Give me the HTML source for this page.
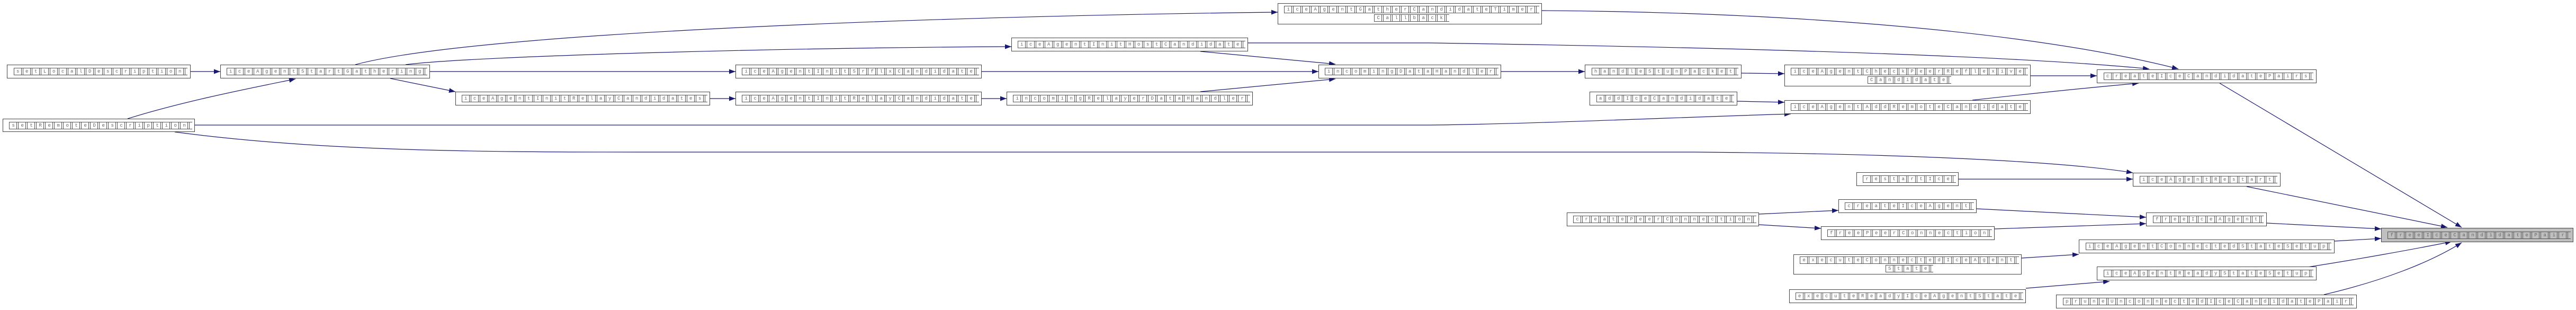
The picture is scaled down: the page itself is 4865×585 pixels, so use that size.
<!DOCTYPE html>
<html><head><meta charset="utf-8">
<style>
html,body{margin:0;padding:0;background:#fff;}
body{width:4865px;height:585px;position:relative;overflow:hidden;font-family:"Liberation Mono",monospace;}
.n{position:absolute;box-sizing:border-box;border:1px solid #444;background:#fff;display:flex;flex-direction:column;align-items:center;justify-content:center;gap:2px;}
.n.g{background:#bfbfbf;}
.t{display:inline-block;height:14px;line-height:14px;font-size:9px;color:#666;letter-spacing:11.6px;padding-left:5px;margin-right:-7px;white-space:nowrap;
background-image:
repeating-linear-gradient(90deg,#555 0 1px,transparent 1px 14px,#555 14px 15px,transparent 15px 17px),
linear-gradient(180deg,#555 0 1px,transparent 1px 13px,#555 13px 14px);
background-repeat:repeat-x,no-repeat;background-size:auto,100% 100%;}
svg{position:absolute;left:0;top:0;}
</style></head><body>
<svg width="4865" height="585" viewBox="0 0 4865 585">
<defs><marker id="a" markerWidth="12" markerHeight="9" refX="12" refY="4.5" orient="auto" markerUnits="userSpaceOnUse"><path d="M0,0 L12,4.5 L0,9 Z" fill="#191970"/></marker></defs>
<g fill="none" stroke="#191970" stroke-width="1.2" marker-end="url(#a)">
<path d="M360,135 L416,135"/>
<path d="M241,224 C350,190 480,165 558,149"/>
<path d="M671,122 C900,60 1800,30 2413,23"/>
<path d="M766,122 C900,105 1500,90 1910,88"/>
<path d="M812,135 L1389,135"/>
<path d="M737,148 L860,173"/>
<path d="M1341,186 L1389,186"/>
<path d="M1854,186 L1901,186"/>
<path d="M1854,135 L2490,135"/>
<path d="M2267,97 L2522,121"/>
<path d="M2267,173 L2522,149"/>
<path d="M2835,135 L2993,135"/>
<path d="M3289,138 L3370,139"/>
<path d="M3280,191 L3370,193"/>
<path d="M368,236 L2700,236 C2900,234 3200,220 3382,215"/>
<path d="M330,249 C600,285 900,287 1200,287 L3200,287 C3600,290 3900,305 4028,326"/>
<path d="M2912,20 C3300,22 3800,50 4114,130"/>
<path d="M2357,81 L2700,81 C3300,90 3800,105 4059,130"/>
<path d="M3835,143 L3960,143"/>
<path d="M3725,189 C3850,175 3950,165 4039,157"/>
<path d="M4192,157 L4649,429"/>
<path d="M4243,352 L4622,429"/>
<path d="M3699,338 L4028,338"/>
<path d="M4281,421 L4497,432"/>
<path d="M4409,455 L4497,450"/>
<path d="M4352,505 C4450,490 4560,470 4630,456"/>
<path d="M4389,556 C4500,530 4590,495 4649,458"/>
<path d="M3733,394 L4053,410"/>
<path d="M3767,432 L4053,422"/>
<path d="M3322,404 L3472,397"/>
<path d="M3322,424 L3439,431"/>
<path d="M3818,487 L3926,480"/>
<path d="M3826,544 L3984,531"/>
</g></svg>

<div class="n" style="left:13px;top:122px;width:347px;height:26px"><span class="t">setLocalDescription</span></div>
<div class="n" style="left:5px;top:224px;width:363px;height:25px"><span class="t">setRemoteDescription</span></div>
<div class="n" style="left:416px;top:122px;width:396px;height:26px"><span class="t">iceAgentStartGathering</span></div>
<div class="n" style="left:860px;top:173px;width:481px;height:26px"><span class="t">iceAgentInitRelayCandidates</span></div>
<div class="n" style="left:1389px;top:122px;width:465px;height:26px"><span class="t">iceAgentInitSrflxCandidate</span></div>
<div class="n" style="left:1389px;top:173px;width:465px;height:26px"><span class="t">iceAgentInitRelayCandidate</span></div>
<div class="n" style="left:1910px;top:71px;width:447px;height:26px"><span class="t">iceAgentInitHostCandidate</span></div>
<div class="n" style="left:1901px;top:173px;width:465px;height:26px"><span class="t">incomingRelayerDataHandler</span></div>
<div class="n" style="left:2413px;top:6px;width:499px;height:40px"><span class="t">iceAgentGatherCandidateTimer</span><span class="t">Callback</span></div>
<div class="n" style="left:2490px;top:122px;width:345px;height:26px"><span class="t">incomingDataHandler</span></div>
<div class="n" style="left:2993px;top:122px;width:296px;height:26px"><span class="t">handleStunPacket</span></div>
<div class="n" style="left:3002px;top:173px;width:279px;height:26px"><span class="t">addIceCandidate</span></div>
<div class="n" style="left:3370px;top:122px;width:465px;height:41px"><span class="t">iceAgentCheckPeerReflexive</span><span class="t">Candidate</span></div>
<div class="n" style="left:3370px;top:189px;width:465px;height:26px"><span class="t">iceAgentAddRemoteCandidate</span></div>
<div class="n" style="left:3960px;top:131px;width:415px;height:26px"><span class="t">createIceCandidatePairs</span></div>
<div class="n" style="left:3506px;top:325px;width:193px;height:26px"><span class="t">restartIce</span></div>
<div class="n" style="left:4028px;top:326px;width:279px;height:26px"><span class="t">iceAgentRestart</span></div>
<div class="n" style="left:2959px;top:401px;width:363px;height:26px"><span class="t">createPeerConnection</span></div>
<div class="n" style="left:3472px;top:376px;width:261px;height:26px"><span class="t">createIceAgent</span></div>
<div class="n" style="left:3439px;top:427px;width:328px;height:26px"><span class="t">freePeerConnection</span></div>
<div class="n" style="left:4053px;top:401px;width:228px;height:26px"><span class="t">freeIceAgent</span></div>
<div class="n" style="left:3387px;top:480px;width:431px;height:38px"><span class="t">executeConnectedIceAgent</span><span class="t">State</span></div>
<div class="n" style="left:3379px;top:546px;width:447px;height:26px"><span class="t">executeReadyIceAgentState</span></div>
<div class="n" style="left:3926px;top:452px;width:483px;height:26px"><span class="t">iceAgentConnectedStateSetup</span></div>
<div class="n" style="left:3960px;top:503px;width:415px;height:26px"><span class="t">iceAgentReadyStateSetup</span></div>
<div class="n" style="left:3883px;top:556px;width:568px;height:26px"><span class="t">pruneUnconnectedIceCandidatePair</span></div>
<div class="n g" style="left:4497px;top:430px;width:363px;height:27px"><span class="t">freeIceCandidatePair</span></div>
</body></html>
